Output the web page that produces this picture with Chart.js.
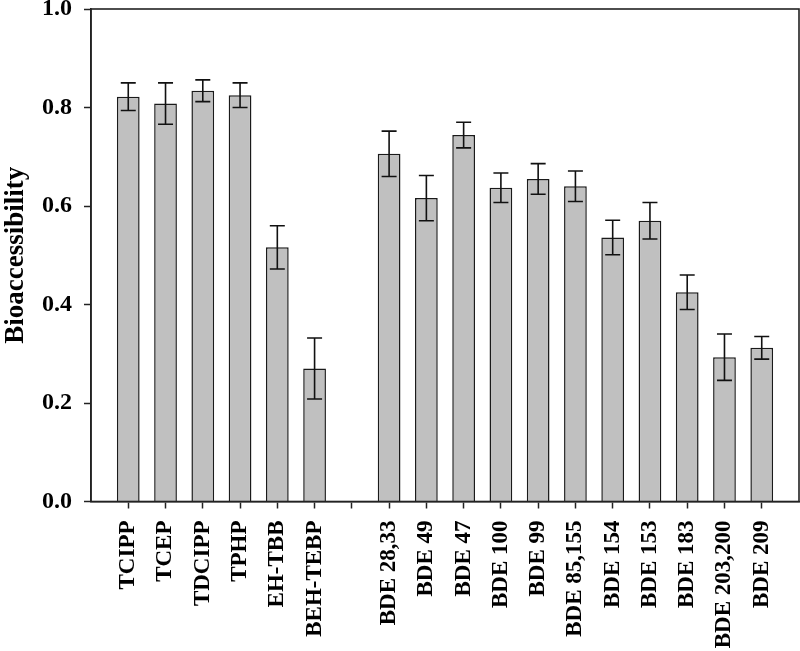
<!DOCTYPE html>
<html>
<head>
<meta charset="utf-8">
<script src="https://cdn.jsdelivr.net/npm/chart.js@4"></script>
<style>
    body { margin: 0; background: #fff; }
    #wrap { width: 800px; height: 651px; }
</style>
</head>
<body>
<div id="wrap"><canvas id="bioChart"></canvas></div>
<script>
// Dados (vazios nas pontas e no intervalo entre os grupos)
const categories = ['', 'TCIPP', 'TCEP', 'TDCIPP', 'TPHP', 'EH-TBB', 'BEH-TEBP', '',
    'BDE 28,33', 'BDE 49', 'BDE 47', 'BDE 100', 'BDE 99', 'BDE 85,155', 'BDE 154',
    'BDE 153', 'BDE 183', 'BDE 203,200', 'BDE 209', ''];
const values = [null, 0.822, 0.808, 0.834, 0.825, 0.516, 0.270, null,
    0.706, 0.616, 0.744, 0.637, 0.655, 0.640, 0.536,
    0.570, 0.425, 0.293, 0.312, null];
const errors = [null, 0.028, 0.042, 0.022, 0.025, 0.044, 0.062, null,
    0.046, 0.046, 0.026, 0.030, 0.031, 0.031, 0.035,
    0.037, 0.035, 0.047, 0.023, null];
const yTicks = [0, 0.2, 0.4, 0.6, 0.8, 1.0];

const serif = 'Liberation Serif';

// Barras de erro desenhadas com as escalas do próprio Chart.js
const errorBars = {
    id: 'errorBars',
    afterDatasetsDraw(chart) {
        const ctx = chart.ctx;
        const meta = chart.getDatasetMeta(0);
        const yScale = chart.scales.y;
        ctx.save();
        ctx.strokeStyle = '#111';
        ctx.lineWidth = 1.6;
        meta.data.forEach((bar, i) => {
            if (values[i] == null) return;
            const x = bar.x;
            const top = yScale.getPixelForValue(values[i] + errors[i]);
            const bot = yScale.getPixelForValue(values[i] - errors[i]);
            const cap = 7.5;
            ctx.beginPath();
            ctx.moveTo(x, top); ctx.lineTo(x, bot);
            ctx.moveTo(x - cap, top); ctx.lineTo(x + cap, top);
            ctx.moveTo(x - cap, bot); ctx.lineTo(x + cap, bot);
            ctx.stroke();
        });
        ctx.restore();
    }
};

// Moldura em volta da área do gráfico
const frame = {
    id: 'frame',
    afterDraw(chart) {
        const { left, top, right, bottom } = chart.chartArea;
        const ctx = chart.ctx;
        ctx.save();
        ctx.strokeStyle = '#222';
        ctx.lineWidth = 1.6;
        ctx.strokeRect(left, top, right - left, bottom - top);
        ctx.restore();
    }
};

const ctx = document.getElementById('bioChart').getContext('2d');
new Chart(ctx, {
    type: 'bar',
    data: {
        labels: categories,
        datasets: [{
            data: values,
            backgroundColor: '#c0c0c0',
            borderColor: '#1a1a1a',
            borderWidth: 1.5,
            barPercentage: 0.61,
            categoryPercentage: 1
        }]
    },
    options: {
        responsive: true,
        maintainAspectRatio: false,
        animation: false,
        layout: { padding: { top: 9, right: 1, left: 0, bottom: 0 } },
        plugins: {
            legend: { display: false },
            tooltip: { enabled: false }
        },
        scales: {
            x: {
                type: 'category',
                offset: false,
                grid: {
                    offset: false,
                    drawOnChartArea: false,
                    tickLength: 7,
                    tickWidth: 1.5,
                    tickColor: c => (c.index === 0 || c.index === categories.length - 1) ? 'rgba(0,0,0,0)' : '#222'
                },
                border: { color: '#222', width: 1.6 },
                ticks: {
                    autoSkip: false,
                    maxRotation: 90,
                    minRotation: 90,
                    padding: 12,
                    color: '#000',
                    font: { family: serif, size: 23, weight: 'bold' }
                },
                afterFit(scale) {
                    scale.height = 149.5;
                    scale.paddingLeft = 0;
                    scale.paddingRight = 0;
                }
            },
            y: {
                min: 0,
                max: 1,
                afterBuildTicks(scale) {
                    scale.ticks = yTicks.map(v => ({ value: v }));
                },
                grid: {
                    drawOnChartArea: false,
                    tickLength: 7,
                    tickWidth: 1.5,
                    tickColor: '#222'
                },
                border: { color: '#222', width: 1.6 },
                ticks: {
                    padding: 12,
                    color: '#000',
                    font: { family: serif, size: 24, weight: 'bold', lineHeight: 0.8 },
                    callback: v => Number(v).toFixed(1)
                },
                title: {
                    display: true,
                    text: 'Bioaccessibility',
                    color: '#000',
                    padding: 0,
                    font: { family: serif, size: 27, weight: 'bold' }
                },
                afterFit(scale) {
                    scale.width = 91;
                    scale.paddingTop = 0;
                    scale.paddingBottom = 0;
                }
            }
        }
    },
    plugins: [errorBars, frame]
});
</script>
</body>
</html>
